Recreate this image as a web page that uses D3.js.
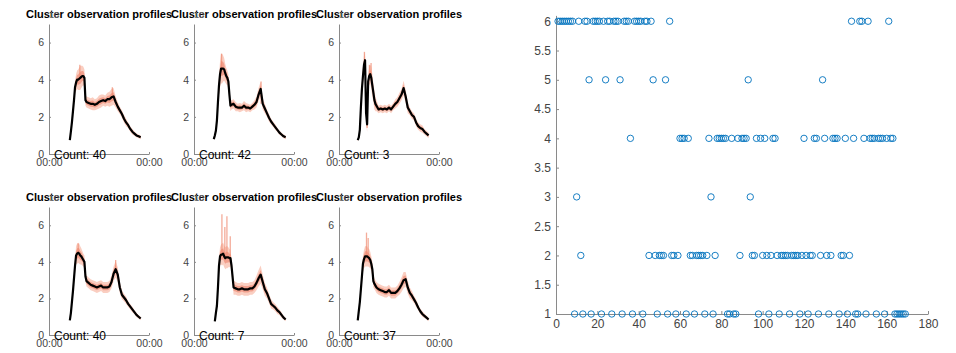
<html>
<head>
<script src="https://d3js.org/d3.v7.min.js"></script>
<style>
  body { margin: 0; background: #fff; }
  text { font-family: "Liberation Sans", Arial, sans-serif; }
</style>
</head>
<body>
<svg width="956" height="353"></svg>
<script>
// time of day (hours) for the profile samples
var hours = [4.5,4.75,5,5.25,5.5,5.75,6,6.25,6.5,6.75,7,7.25,7.5,7.75,8,8.25,8.5,8.75,9,
  9.5,10,10.5,11,11.5,12,12.5,13,13.5,14,14.5,15,15.5,16,16.5,17,17.5,18,18.5,19,19.5,20,20.5,21,21.5,22];

// cluster mean profiles
var mean1 = [null,null,0.75,1.2,1.7,2.3,2.9,3.6,3.85,4.0,4.0,4.05,4.1,4.15,4.2,4.2,4.1,2.9,2.8,
  2.75,2.7,2.7,2.65,2.7,2.8,2.85,2.9,2.85,2.95,2.95,3.05,3.1,2.8,2.55,2.35,2.15,1.9,1.7,1.55,1.35,1.2,1.1,1.0,0.95,0.9];
var mean2 = [null,0.8,1.0,1.25,1.8,2.8,3.7,4.3,4.6,4.6,4.6,4.55,4.35,4.2,4.1,3.9,3.2,2.6,2.65,
  2.7,2.55,2.5,2.5,2.5,2.6,2.5,2.5,2.45,2.55,2.65,2.8,3.2,3.5,2.7,2.45,2.2,1.95,1.75,1.6,1.45,1.3,1.15,1.05,0.95,0.9];
var mean3 = [0.75,0.9,1.3,2.5,3.5,4.2,4.8,5.05,2.2,1.6,3.9,4.2,4.3,4.1,3.7,3.3,2.9,2.7,2.6,
  2.4,2.45,2.4,2.45,2.4,2.5,2.4,2.55,2.7,2.8,3.0,3.2,3.55,3.1,2.5,2.3,2.1,2.0,1.7,1.5,1.4,1.35,1.2,1.1,1.0,null];
var mean4 = [null,null,0.8,1.2,1.8,2.4,3.1,3.8,4.35,4.45,4.5,4.45,4.35,4.3,4.2,4.1,4.0,3.2,2.95,
  2.85,2.75,2.7,2.65,2.6,2.65,2.7,2.6,2.6,2.6,2.65,2.9,3.35,3.6,3.3,2.6,2.2,2.05,1.9,1.7,1.55,1.4,1.25,1.1,1.0,0.9];
var mean5 = [null,null,0.75,1.2,1.6,2.6,3.8,4.3,4.4,4.4,4.45,4.3,4.2,4.25,4.25,4.25,4.2,4.2,3.8,
  2.6,2.55,2.5,2.5,2.55,2.5,2.5,2.5,2.55,2.55,2.65,2.85,3.1,3.3,2.9,2.5,2.3,2.0,1.7,1.6,1.5,1.35,1.25,1.1,0.95,0.85];
var mean6 = [0.8,1.3,1.8,2.5,3.2,3.9,4.15,4.3,4.3,4.3,4.25,4.2,4.1,3.9,3.6,2.95,2.8,2.7,2.6,
  2.5,2.45,2.4,2.35,2.35,2.45,2.3,2.3,2.3,2.4,2.55,2.75,3.0,3.05,2.6,2.3,2.15,1.95,1.75,1.5,1.3,1.15,1.05,0.95,0.85,null];

// half width of the spread of the member observations around each mean
var spread1 = [null,null,0.05,0.1,0.15,0.2,0.25,0.35,0.45,0.5,0.55,0.6,0.65,0.6,0.55,0.5,0.45,0.3,0.3,
  0.3,0.3,0.35,0.3,0.3,0.35,0.35,0.3,0.3,0.35,0.4,0.45,0.45,0.3,0.25,0.2,0.2,0.2,0.2,0.15,0.15,0.15,0.12,0.1,0.1,0.1];
var spread2 = [null,0.05,0.1,0.15,0.25,0.4,0.55,0.7,0.8,0.8,0.7,0.6,0.5,0.45,0.4,0.4,0.35,0.3,0.25,
  0.25,0.25,0.2,0.25,0.2,0.25,0.25,0.2,0.2,0.2,0.25,0.3,0.35,0.4,0.3,0.25,0.2,0.2,0.15,0.15,0.15,0.12,0.12,0.1,0.1,0.1];
var spread3 = [0.05,0.1,0.15,0.3,0.4,0.5,0.5,0.45,0.6,0.4,0.4,0.5,0.5,0.6,0.6,0.5,0.5,0.4,0.3,
  0.2,0.2,0.2,0.2,0.2,0.2,0.2,0.2,0.25,0.25,0.3,0.3,0.4,0.35,0.3,0.2,0.2,0.2,0.2,0.2,0.2,0.2,0.15,0.15,0.15,null];
var spread4 = [null,null,0.05,0.1,0.15,0.2,0.3,0.4,0.5,0.55,0.55,0.55,0.5,0.45,0.4,0.35,0.35,0.3,0.3,
  0.3,0.3,0.3,0.3,0.3,0.3,0.3,0.3,0.3,0.3,0.3,0.35,0.4,0.45,0.4,0.3,0.25,0.2,0.2,0.15,0.15,0.15,0.12,0.12,0.1,0.1];
var spread5 = [null,null,0.05,0.15,0.25,0.35,0.45,0.5,0.55,0.6,0.6,0.6,0.6,0.6,0.6,0.55,0.5,0.45,0.4,
  0.4,0.35,0.35,0.35,0.35,0.35,0.35,0.35,0.35,0.35,0.35,0.4,0.45,0.5,0.4,0.35,0.3,0.25,0.25,0.2,0.2,0.2,0.15,0.15,0.1,0.1];
var spread6 = [0.05,0.1,0.15,0.25,0.35,0.45,0.5,0.55,0.55,0.55,0.5,0.5,0.45,0.4,0.4,0.35,0.3,0.3,0.3,
  0.3,0.3,0.3,0.3,0.3,0.3,0.3,0.3,0.3,0.3,0.35,0.4,0.45,0.4,0.35,0.3,0.25,0.2,0.2,0.15,0.15,0.15,0.12,0.1,0.1,null];

// single observations that stick out of the band: [hour, value]
var spikes1 = [[7.4, 4.8], [15.2, 3.6]];
var spikes2 = [[6.6, 5.4], [16.1, 3.9]];
var spikes3 = [[6.1, 5.5], [6.75, 1.4], [7.3, 4.8], [7.7, 4.9]];
var spikes4 = [[7.0, 5.0], [16.0, 4.1]];
var spikes5 = [[6.7, 6.6], [7.4, 5.9], [7.9, 6.5], [8.7, 5.4]];
var spikes6 = [[6.6, 5.6], [7.0, 5.3]];

var counts = [40, 42, 3, 40, 7, 37];

// observation index per cluster (right panel)
var obs1 = [9,13,17,22,27,32,37,42,49,54,58,63,67,72,76,83,84,86,87,98,103,108,113,118,122,127,132,137,141,145,146,150,155,159,164,165,166,167,168,169];
var obs2 = [12,45,48,50,51,52,56,57,59,65,66,68,69,70,71,73,77,89,95,96,100,102,104,107,109,110,111,112,114,115,116,117,119,121,123,124,128,131,133,138,139,142];
var obs3 = [10,75,94];
var obs4 = [36,60,61,62,64,74,78,79,80,81,82,85,88,90,91,92,97,99,101,105,106,120,125,126,130,134,135,136,140,144,149,152,153,154,156,157,158,160,162,163];
var obs5 = [16,24,31,47,53,93,129];
var obs6 = [1,2,3,4,5,6,7,8,11,14,15,18,19,20,21,23,25,26,28,29,30,33,34,35,38,39,40,41,43,44,46,55,143,147,148,151,161];

var profileYTicks = [0, 2, 4, 6];
var scatterXTicks = [0, 20, 40, 60, 80, 100, 120, 140, 160, 180];
var scatterYTicks = [1, 1.5, 2, 2.5, 3, 3.5, 4, 4.5, 5, 5.5, 6];

var svg = d3.select("svg");
svg.append("rect").attr("width", 956).attr("height", 353).attr("fill", "#fff");

var means = [mean1, mean2, mean3, mean4, mean5, mean6];
var spreads = [spread1, spread2, spread3, spread4, spread5, spread6];
var spikes = [spikes1, spikes2, spikes3, spikes4, spikes5, spikes6];

var colLeft = [49, 194, 339];
var rowTop = [24, 207];
var rowH = [130, 128];
var panelW = 100;
var plain = d3.format("~g");

function styleAxis(g) {
  g.select(".domain").attr("stroke", "#8a8a8a").attr("stroke-width", 1);
  g.selectAll(".tick line").attr("stroke", "#8a8a8a");
  g.selectAll(".tick text").attr("fill", "#444").style("font-family", "Liberation Sans, Arial, sans-serif");
}

function drawProfile(k) {
  var left = colLeft[k % 3], top = rowTop[Math.floor(k / 3)], h = rowH[Math.floor(k / 3)];
  var mean = means[k], spread = spreads[k];
  var x = d3.scaleLinear().domain([0, 24]).range([left, left + panelW]);
  var y = d3.scaleLinear().domain([0, 7]).range([top + h, top]);
  var g = svg.append("g");
  var idx = d3.range(hours.length);

  var band = function(f) {
    return d3.area()
      .defined(function(i) { return mean[i] != null; })
      .x(function(i) { return x(hours[i]); })
      .y0(function(i) { return y(mean[i] - spread[i] * f); })
      .y1(function(i) { return y(mean[i] + spread[i] * f); });
  };
  g.append("path").attr("d", band(1)(idx)).attr("fill", "#f9c6b6").attr("opacity", 0.85);
  g.append("path").attr("d", band(0.5)(idx)).attr("fill", "#ec826a").attr("opacity", 0.6);

  g.selectAll(".spike").data(spikes[k]).enter().append("line")
    .attr("x1", function(d) { return x(d[0]); })
    .attr("x2", function(d) { return x(d[0]); })
    .attr("y1", function(d) {
      var i = d3.bisectLeft(hours, d[0]);
      return y(mean[Math.min(i, hours.length - 1)] || d[1]);
    })
    .attr("y2", function(d) { return y(d[1]); })
    .attr("stroke", "#f08a70").attr("stroke-width", 1.3).attr("opacity", 0.7);

  g.append("path")
    .attr("d", d3.line()
      .defined(function(i) { return mean[i] != null; })
      .x(function(i) { return x(hours[i]); })
      .y(function(i) { return y(mean[i]); })(idx))
    .attr("fill", "none").attr("stroke", "#000").attr("stroke-width", 2.2)
    .attr("stroke-linejoin", "round");

  var ay = g.append("g").attr("transform", "translate(" + left + ",0)")
    .call(d3.axisLeft(y).tickValues(profileYTicks).tickFormat(plain)
      .tickSizeInner(-2).tickSizeOuter(0).tickPadding(5))
    .style("font-size", "10.5px");
  styleAxis(ay);
  var ax = g.append("g").attr("transform", "translate(0," + (top + h) + ")")
    .call(d3.axisBottom(x).tickValues([0, 24]).tickSizeInner(-2).tickSizeOuter(0).tickPadding(5)
      .tickFormat(function() { return "00:00"; }))
    .style("font-size", "10.5px");
  styleAxis(ax);

  g.append("text").attr("x", left + panelW / 2).attr("y", top - 6)
    .attr("text-anchor", "middle").attr("font-size", "11px").attr("font-weight", "bold")
    .attr("fill", "#000").text("Cluster observation profiles");

  // exponent label of the time axis, drawn over the title as in the original
  g.append("text").attr("x", left).attr("y", top - 6)
    .attr("font-size", "9px").attr("fill", "#777")
    .text("10");

  g.append("text").attr("x", left + 5).attr("y", top + h + 5)
    .attr("font-size", "12px").attr("fill", "#000")
    .text("Count: " + counts[k]);
}

for (var k = 0; k < 6; k++) drawProfile(k);

// right panel: cluster index of every observation
var sx = d3.scaleLinear().domain([0, 180]).range([556, 928]);
var sy = d3.scaleLinear().domain([1, 6.1]).range([314, 15.4]);

var pts = [];
[obs1, obs2, obs3, obs4, obs5, obs6].forEach(function(list, c) {
  list.forEach(function(o) { pts.push([o, c + 1]); });
});

var gy = svg.append("g").attr("transform", "translate(556,0)")
  .call(d3.axisLeft(sy).tickValues(scatterYTicks).tickFormat(plain)
    .tickSizeInner(-3).tickSizeOuter(0).tickPadding(5))
  .style("font-size", "12px");
styleAxis(gy);
var gx = svg.append("g").attr("transform", "translate(0,314)")
  .call(d3.axisBottom(sx).tickValues(scatterXTicks).tickFormat(plain)
    .tickSizeInner(-3).tickSizeOuter(0).tickPadding(5))
  .style("font-size", "12px");
styleAxis(gx);

svg.append("g").selectAll("circle").data(pts).enter().append("circle")
  .attr("cx", function(d) { return sx(d[0]); })
  .attr("cy", function(d) { return sy(d[1]); })
  .attr("r", 3.2)
  .attr("fill", "none").attr("stroke", "#0072BD").attr("stroke-width", 0.9);
</script>
</body>
</html>
